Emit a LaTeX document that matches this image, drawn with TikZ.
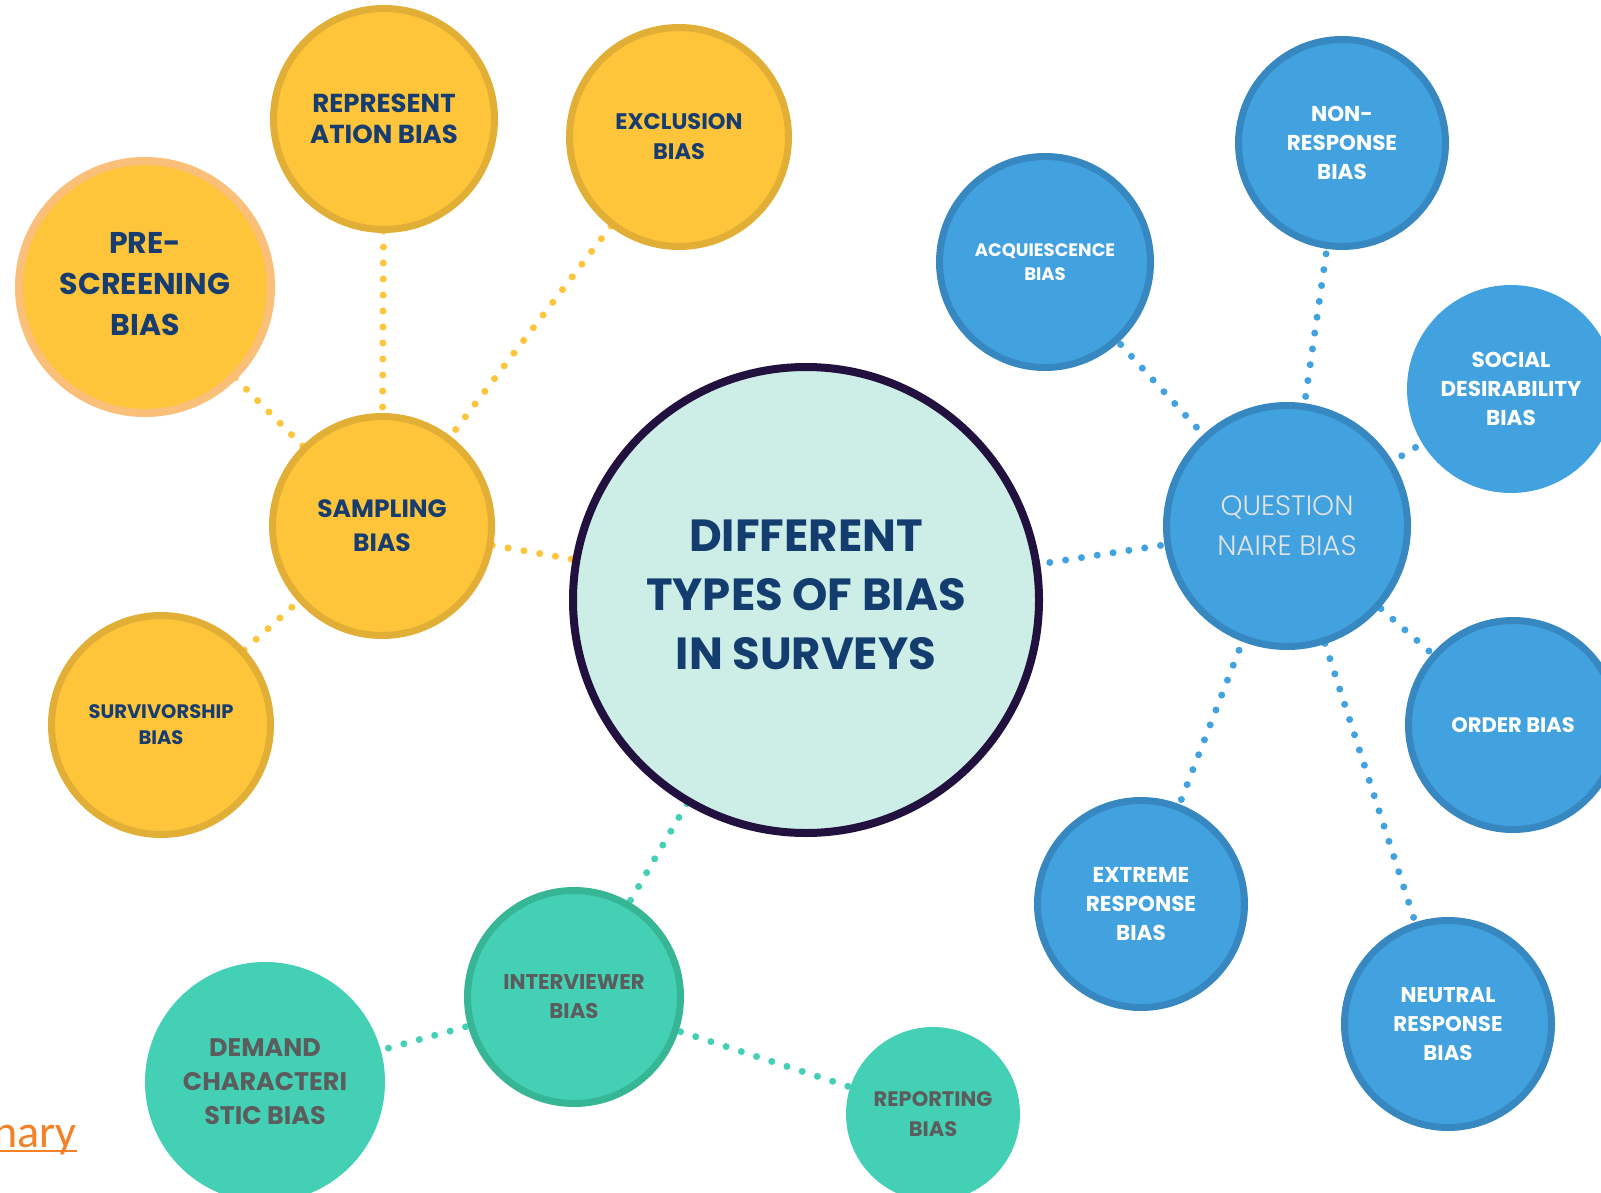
\documentclass[tikz,border=0pt]{standalone}
\usepackage{fontspec}
\setmainfont{Poppins}
\IfFontExistsTF{Poppins Light}{\newfontfamily\lightfont{Poppins Light}}{\newfontfamily\lightfont{Lato}}
\newfontfamily\linkfont{Carlito}
\usetikzlibrary{backgrounds}

\definecolor{yelFill}{HTML}{FEC43A}
\definecolor{yelRing}{HTML}{E2AF36}
\definecolor{preRing}{HTML}{FABF78}
\definecolor{navyText}{HTML}{173D70}
\definecolor{hubFill}{HTML}{CDEDE7}
\definecolor{hubRing}{HTML}{22103F}
\definecolor{hubText}{HTML}{133D6E}
\definecolor{bluFill}{HTML}{41A2DF}
\definecolor{bluRing}{HTML}{3788C1}
\definecolor{qText}{HTML}{E3E3E3}
\definecolor{tealFill}{HTML}{43D0B4}
\definecolor{tealRing}{HTML}{37B696}
\definecolor{tealText}{HTML}{5C5C5C}
\definecolor{linkOrange}{HTML}{F58025}

\begin{document}
\begin{tikzpicture}[x=1pt,y=-1pt,
  bubble/.style={circle, inner sep=0pt, align=center},
  fs/.style 2 args={font=\bfseries\fontsize{#1}{#2}\selectfont},
  ybub/.style={bubble, fill=yelFill, text=navyText},
  yring/.style={ybub, draw=yelRing, line width=7pt},
  bbub/.style={bubble, fill=bluFill, text=white},
  bring/.style={bbub, draw=bluRing, line width=7pt},
  tbub/.style={bubble, fill=tealFill, text=tealText},
  tring/.style={tbub, draw=tealRing, line width=7pt},
  dots/.style={line width=7pt, line cap=round, dash pattern=on 0pt off 16pt},
  ydots/.style={dots, draw=yelFill},
  bdots/.style={dots, draw=bluFill},
  tdots/.style={dots, draw=tealFill}]
\useasboundingbox (0,0) rectangle (1601,1193);
\clip (0,0) rectangle (1601,1193);

% central hub
\node[bubble, fill=hubFill, draw=hubRing, line width=8pt, text=hubText,
      minimum size=466pt, text depth=10pt, fs={45}{59}] (hub) at (806,600)
      {DIFFERENT\\TYPES OF BIAS\\IN SURVEYS};

% sampling family (yellow)
\node[ybub, draw=preRing, line width=8pt, minimum size=252pt, text depth=6pt, fs={30}{41}]
      (pre) at (145,287) {PRE-\\SCREENING\\BIAS};
\node[yring, minimum size=221pt, fs={26}{31}] (rep) at (384,119) {REPRESENT\\ATION BIAS};
\node[yring, minimum size=219pt, fs={22.5}{30}] (excl) at (679,137) {EXCLUSION\\BIAS};
\node[yring, minimum size=219pt, fs={25}{34}] (samp) at (382,526) {SAMPLING\\BIAS};
\node[yring, minimum size=219pt, fs={19.5}{26}] (surv) at (161,725) {SURVIVORSHIP\\BIAS};

% questionnaire family (blue)
\node[bring, minimum size=241pt, text=qText,
      font=\lightfont\fontsize{28}{40}\selectfont] (quest) at (1287,526)
      {QUESTION\\NAIRE BIAS};
\node[bring, minimum size=211pt, fs={18}{24}] (acq) at (1045,262) {ACQUIESCENCE\\BIAS};
\node[bring, minimum size=207pt, fs={21.5}{29}] (non) at (1342,143) {NON-\\RESPONSE\\BIAS};
\node[bbub, minimum size=208pt, fs={21.5}{29}] (soc) at (1511,389) {SOCIAL\\DESIRABILITY\\BIAS};
\node[bring, minimum size=209pt, fs={21}{28}] (ord) at (1513,725) {ORDER BIAS};
\node[bring, minimum size=207pt, fs={21.5}{29}] (ext) at (1141,904) {EXTREME\\RESPONSE\\BIAS};
\node[bring, minimum size=207pt, fs={21.3}{29}] (neu) at (1448,1024) {NEUTRAL\\RESPONSE\\BIAS};

% interviewer family (teal)
\node[tring, minimum size=213pt, fs={21.3}{29}] (intv) at (574,997) {INTERVIEWER\\BIAS};
\node[tbub, minimum size=240pt, fs={25.4}{34}] (dem) at (265,1082) {DEMAND\\CHARACTERI\\STIC BIAS};
\node[tbub, minimum size=174pt, fs={21}{30}] (rep2) at (933,1114) {REPORTING\\BIAS};

% underlined link fragment, running off the left edge
\node[anchor=base east, inner sep=0pt, text=linkOrange,
      font=\linkfont\fontsize{46}{46}\selectfont] (link) at (77,1147) {nary};
\draw[linkOrange, line width=2.7pt] ([yshift=-4pt]link.base west) -- ([yshift=-4pt]link.base east);

% dotted connectors, behind the bubbles
\begin{scope}[on background layer]
  \fill[white] (0,0) rectangle (1601,1193);
  \draw[ydots] (pre.center) -- (samp.center);
  \draw[ydots] (rep.center) -- (samp.center);
  \draw[ydots] (excl.center) -- (samp.center);
  \draw[ydots] (surv.center) -- (samp.center);
  \draw[ydots] (samp.center) -- (hub.center);
  \draw[bdots] (quest.center) -- (hub.center);
  \draw[bdots] (acq.center) -- (quest.center);
  \draw[bdots] (non.center) -- (quest.center);
  \draw[bdots] (soc.center) -- (quest.center);
  \draw[bdots] (ord.center) -- (quest.center);
  \draw[bdots] (ext.center) -- (quest.center);
  \draw[bdots] (neu.center) -- (quest.center);
  \draw[tdots] (intv.center) -- (hub.center);
  \draw[tdots] (dem.center) -- (intv.center);
  \draw[tdots] (intv.center) -- (rep2.center);
\end{scope}
\end{tikzpicture}
\end{document}
